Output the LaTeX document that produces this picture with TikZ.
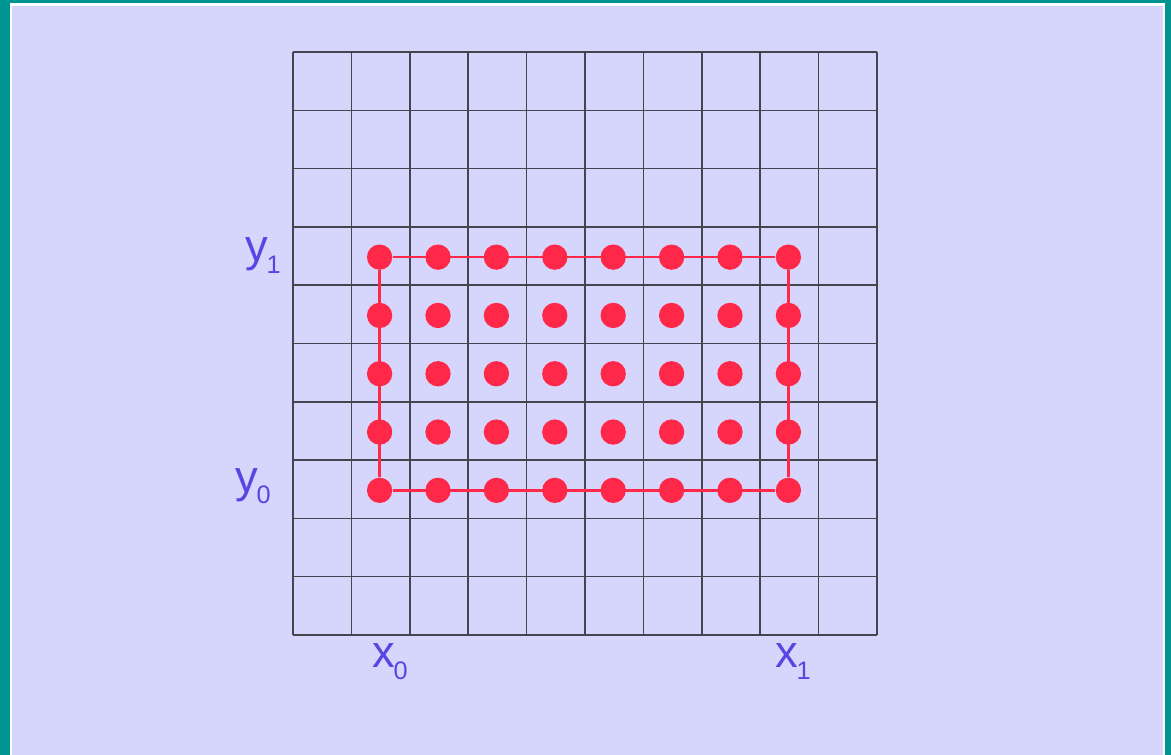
\documentclass[tikz,border=0pt]{standalone}
\usepackage{fontspec}
\setmainfont{Liberation Sans}
\definecolor{frameteal}{HTML}{009490}
\definecolor{paperlav}{HTML}{D6D6FC}
\definecolor{gridgray}{HTML}{45454F}
\definecolor{dotred}{HTML}{FF2848}
\definecolor{labelblue}{HTML}{5646E2}
\newcommand{\gridlabel}[2]{{\fontsize{34}{40}\selectfont #1}\kern-1pt\raisebox{-9pt}{\fontsize{19}{22}\selectfont #2}}

\begin{document}
\begin{tikzpicture}[x=0.75pt,y=-0.75pt,
      gridline/.style={draw=gridgray,line width=1.1pt},
      dot/.style={circle,fill=dotred,inner sep=0pt,minimum size=19pt},
      redline/.style={draw=dotred,line width=1.8pt},
      lbl/.style={text=labelblue,inner sep=0pt,anchor=base west}]
    %% -- frame and paper ------------------------------------
    \useasboundingbox (0,0) rectangle (1171,755);
    \fill[frameteal] (0,0) rectangle (1171,755);
    \fill[white] (9.5,3.3) rectangle (1165,755);
    \fill[paperlav] (12,6) rectangle (1163,755);
    %% -- grid 10 x 10 ----------------------------------------
    \foreach \i in {0,...,10} {
      \draw[gridline] (293+58.4*\i,52) -- (293+58.4*\i,635);
      \draw[gridline] (293,52+58.3*\i) -- (877,52+58.3*\i);
    }
    %% -- sample dots -------------------------------------------
    \foreach \i in {1,...,8} {
      \foreach \j in {1,...,5} {
        \node[dot] (d\i\j) at (321.2+58.4*\i,548.65-58.3*\j) {};
      }
    }
    %% -- outline of the region --------------------------------
    \draw[redline] (d11) -- (d81);
    \draw[redline] (d81) -- (d85);
    \draw[redline] (d85) -- (d15);
    \draw[redline] (d15) -- (d11);
    %% -- labels ------------------------------------------------
    \node[lbl] (ya) at (245,262) {\gridlabel{y}{1}};
    \node[lbl] (yb) at (235,492) {\gridlabel{y}{0}};
    \node[lbl] (xa) at (372,667) {\gridlabel{x}{0}};
    \node[lbl] (xb) at (775,667) {\gridlabel{x}{1}};
  \end{tikzpicture}
\end{document}
